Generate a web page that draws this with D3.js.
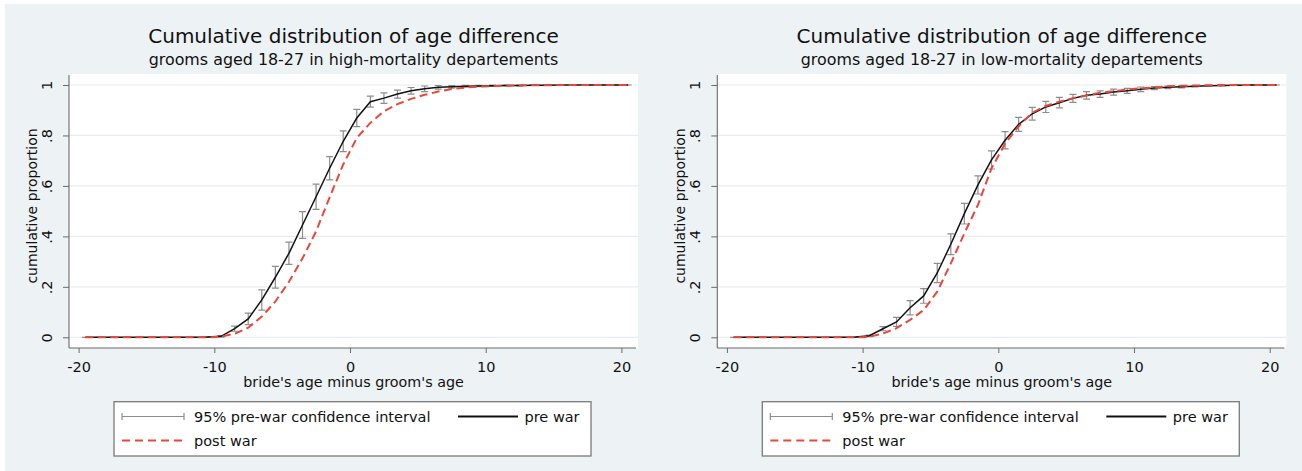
<!DOCTYPE html>
<html>
<head>
<meta charset="utf-8">
<script src="https://cdn.jsdelivr.net/npm/d3@7"></script>
<style>
  html, body { margin: 0; padding: 0; background: #fff; }
  svg { display: block; font-family: "DejaVu Sans", sans-serif; }
</style>
</head>
<body>
<svg id="chart" width="1302" height="471"></svg>
<script>
// Age difference (bride minus groom), midpoints of one-year bins
const ageDiff = [-19.5, -18.5, -17.5, -16.5, -15.5, -14.5, -13.5, -12.5, -11.5, -10.5,
                 -9.5, -8.5, -7.5, -6.5, -5.5, -4.5, -3.5, -2.5, -1.5, -0.5,
                 0.5, 1.5, 2.5, 3.5, 4.5, 5.5, 6.5, 7.5, 8.5, 9.5,
                 10.5, 11.5, 12.5, 13.5, 14.5, 15.5, 16.5, 17.5, 18.5, 19.5, 20.5];

const xTicks = [-20, -10, 0, 10, 20];
const xTickLabels = ["-20", "-10", "0", "10", "20"];
const yTicks = [0, 0.2, 0.4, 0.6, 0.8, 1];
const yTickLabels = ["0", ".2", ".4", ".6", ".8", "1"];

const panelTitles = ["Cumulative distribution of age difference",
                     "Cumulative distribution of age difference"];
const panelSubtitles = ["grooms aged 18-27 in high-mortality departements",
                        "grooms aged 18-27 in low-mortality departements"];
const xAxisTitle = "bride's age minus groom's age";
const yAxisTitle = "cumulative proportion";
const legendLabels = ["95% pre-war confidence interval", "pre war", "post war"];

// High-mortality departements
const highPreWar = [0, 0, 0, 0, 0, 0, 0, 0, 0, 0.001,
                    0.004, 0.034, 0.073, 0.148, 0.238, 0.333, 0.445, 0.557, 0.670, 0.777,
                    0.869, 0.934, 0.948, 0.964, 0.977, 0.985, 0.991, 0.993, 0.995, 0.996,
                    0.997, 0.998, 0.998, 0.999, 0.999, 1, 1, 1, 1, 1, 1];
const highPreWarCI = [0, 0, 0, 0, 0, 0, 0, 0, 0, 0.001,
                      0.003, 0.010, 0.023, 0.040, 0.043, 0.044, 0.053, 0.050, 0.046, 0.041,
                      0.034, 0.022, 0.021, 0.016, 0.013, 0.011, 0.007, 0.005, 0.004, 0.003,
                      0.003, 0.002, 0.002, 0.001, 0.001, 0, 0, 0, 0, 0, 0];
const highPostWar = [0, 0, 0, 0, 0, 0, 0, 0, 0, 0,
                     0.003, 0.014, 0.038, 0.082, 0.142, 0.220, 0.313, 0.420, 0.555, 0.685,
                     0.790, 0.850, 0.896, 0.924, 0.945, 0.961, 0.974, 0.984, 0.990, 0.994,
                     0.996, 0.997, 0.998, 0.999, 0.999, 1, 1, 1, 1, 1, 1];

// Low-mortality departements
const lowPreWar = [0, 0, 0, 0, 0, 0, 0, 0, 0, 0.001,
                   0.006, 0.034, 0.061, 0.117, 0.164, 0.255, 0.369, 0.490, 0.604, 0.703,
                   0.781, 0.844, 0.886, 0.913, 0.930, 0.947, 0.959, 0.964, 0.972, 0.977,
                   0.983, 0.988, 0.991, 0.993, 0.995, 0.997, 0.998, 0.999, 1, 1, 1];
const lowPreWarCI = [0, 0, 0, 0, 0, 0, 0, 0, 0, 0.001,
                     0.003, 0.008, 0.018, 0.028, 0.029, 0.038, 0.041, 0.041, 0.036, 0.036,
                     0.034, 0.028, 0.025, 0.022, 0.021, 0.016, 0.015, 0.013, 0.012, 0.010,
                     0.009, 0.006, 0.005, 0.004, 0.003, 0.002, 0.002, 0.001, 0, 0, 0];
const lowPostWar = [0, 0, 0, 0, 0, 0, 0, 0, 0, 0,
                    0.002, 0.015, 0.036, 0.069, 0.108, 0.181, 0.293, 0.412, 0.525, 0.670,
                    0.768, 0.836, 0.890, 0.917, 0.934, 0.948, 0.958, 0.969, 0.976, 0.982,
                    0.987, 0.990, 0.995, 0.997, 0.998, 0.999, 1, 1, 1, 1, 1];

const panels = [
  { title: panelTitles[0], subtitle: panelSubtitles[0], pre: highPreWar, ci: highPreWarCI, post: highPostWar, dx: 0 },
  { title: panelTitles[1], subtitle: panelSubtitles[1], pre: lowPreWar, ci: lowPreWarCI, post: lowPostWar, dx: 648.3 }
];

const COLORS = {
  bg: "#edf2f4", plot: "#ffffff", grid: "#e8eef0", axis: "#6a6a6a",
  ci: "#8d8d8d", pre: "#111111", post: "#e8473a", text: "#111111"
};

const svg = d3.select("#chart");
svg.append("rect").attr("x", 5).attr("y", 4).attr("width", 1297).attr("height", 467).attr("fill", COLORS.bg);

// Plot region geometry (shared by both panels)
const plotL = 69, plotR = 638, plotT = 74, plotB = 348;
const x = d3.scaleLinear().domain([-20, 20]).range([78.6, 621.4]);
const y = d3.scaleLinear().domain([0, 1]).range([337.3, 85]);

panels.forEach(p => {
  const g = svg.append("g").attr("transform", `translate(${p.dx},0)`);

  g.append("rect").attr("x", plotL).attr("y", plotT)
    .attr("width", plotR - plotL).attr("height", plotB - plotT).attr("fill", COLORS.plot);

  // horizontal grid
  g.append("g").selectAll("line").data(yTicks).join("line")
    .attr("x1", plotL).attr("x2", plotR)
    .attr("y1", d => y(d)).attr("y2", d => y(d))
    .attr("stroke", COLORS.grid).attr("stroke-width", 1.2);

  // titles
  g.append("text").attr("x", (plotL + plotR) / 2).attr("y", 43.3)
    .attr("text-anchor", "middle").attr("font-size", 20).attr("fill", COLORS.text).text(p.title);
  g.append("text").attr("x", (plotL + plotR) / 2).attr("y", 64.5)
    .attr("text-anchor", "middle").attr("font-size", 15.9).attr("fill", COLORS.text).text(p.subtitle);

  // x axis
  const xa = g.append("g").attr("transform", `translate(0,${plotB})`)
    .call(d3.axisBottom(x).tickValues(xTicks).tickSize(5).tickPadding(8.4)
      .tickFormat((d, i) => xTickLabels[i]));
  xa.select(".domain").remove();
  xa.selectAll(".tick line").attr("stroke", COLORS.axis);
  xa.selectAll(".tick text").attr("font-size", 14.5).attr("fill", COLORS.text)
    .attr("font-family", "DejaVu Sans, sans-serif");
  g.append("line").attr("x1", plotL).attr("x2", plotR - 2).attr("y1", plotB).attr("y2", plotB)
    .attr("stroke", COLORS.axis).attr("stroke-width", 1.1);

  // y axis with vertical tick labels
  const ya = g.append("g").attr("transform", `translate(${plotL},0)`)
    .call(d3.axisLeft(y).tickValues(yTicks).tickSize(6).tickFormat((d, i) => yTickLabels[i]));
  ya.select(".domain").remove();
  ya.selectAll(".tick line").attr("stroke", COLORS.axis);
  ya.selectAll(".tick text")
    .attr("transform", "rotate(-90)")
    .attr("x", 0).attr("y", -17.5).attr("dy", 0)
    .attr("text-anchor", "middle")
    .attr("font-size", 14.5).attr("fill", COLORS.text)
    .attr("font-family", "DejaVu Sans, sans-serif");
  g.append("line").attr("x1", plotL).attr("x2", plotL).attr("y1", plotT + 1).attr("y2", plotB)
    .attr("stroke", COLORS.axis).attr("stroke-width", 1.1);

  // axis titles
  g.append("text").attr("x", (plotL + plotR) / 2).attr("y", 386.5)
    .attr("text-anchor", "middle").attr("font-size", 14.3).attr("fill", COLORS.text).text(xAxisTitle);
  g.append("text").attr("transform", "translate(36.5,206) rotate(-90)")
    .attr("text-anchor", "middle").attr("font-size", 14).attr("fill", COLORS.text).text(yAxisTitle);

  // confidence interval caps
  const ciData = ageDiff.map((a, i) => ({ x: a, lo: p.pre[i] - p.ci[i], hi: Math.min(1, p.pre[i] + p.ci[i]) }));
  const ci = g.append("g").attr("stroke", COLORS.ci).attr("stroke-width", 1.2).attr("fill", "none");
  ciData.forEach(d => {
    const cx = x(d.x);
    ci.append("path").attr("d",
      `M${cx},${y(d.lo)}V${y(d.hi)}M${cx - 3.5},${y(d.lo)}H${cx + 3.5}M${cx - 3.5},${y(d.hi)}H${cx + 3.5}`);
  });

  const line = d3.line().x(d => x(d.x)).y(d => y(d.v));
  g.append("path").datum(ageDiff.map((a, i) => ({ x: a, v: p.pre[i] })))
    .attr("d", line).attr("fill", "none").attr("stroke", COLORS.pre).attr("stroke-width", 1.5);
  g.append("path").datum(ageDiff.map((a, i) => ({ x: a, v: p.post[i] })))
    .attr("d", line).attr("fill", "none").attr("stroke", COLORS.post).attr("stroke-width", 2)
    .attr("stroke-dasharray", "8,4.5");

  // legend
  const lg = g.append("g");
  lg.append("rect").attr("x", 114).attr("y", 401.7).attr("width", 477).attr("height", 54.3)
    .attr("fill", "#fff").attr("stroke", "#7a7a7a").attr("stroke-width", 1.3);
  lg.append("path").attr("d", "M122,416.5H184M122,413V420M184,413V420")
    .attr("stroke", COLORS.ci).attr("stroke-width", 1.2).attr("fill", "none");
  lg.append("text").attr("x", 194).attr("y", 421.6).attr("font-size", 14.5).attr("fill", COLORS.text).text(legendLabels[0]);
  lg.append("line").attr("x1", 458).attr("x2", 518).attr("y1", 416.5).attr("y2", 416.5)
    .attr("stroke", COLORS.pre).attr("stroke-width", 2);
  lg.append("text").attr("x", 524.5).attr("y", 421.6).attr("font-size", 14.5).attr("fill", COLORS.text).text(legendLabels[1]);
  lg.append("line").attr("x1", 122).attr("x2", 184).attr("y1", 440.5).attr("y2", 440.5)
    .attr("stroke", COLORS.post).attr("stroke-width", 2).attr("stroke-dasharray", "8,5");
  lg.append("text").attr("x", 194).attr("y", 445.6).attr("font-size", 14.5).attr("fill", COLORS.text).text(legendLabels[2]);
});
</script>
</body>
</html>
